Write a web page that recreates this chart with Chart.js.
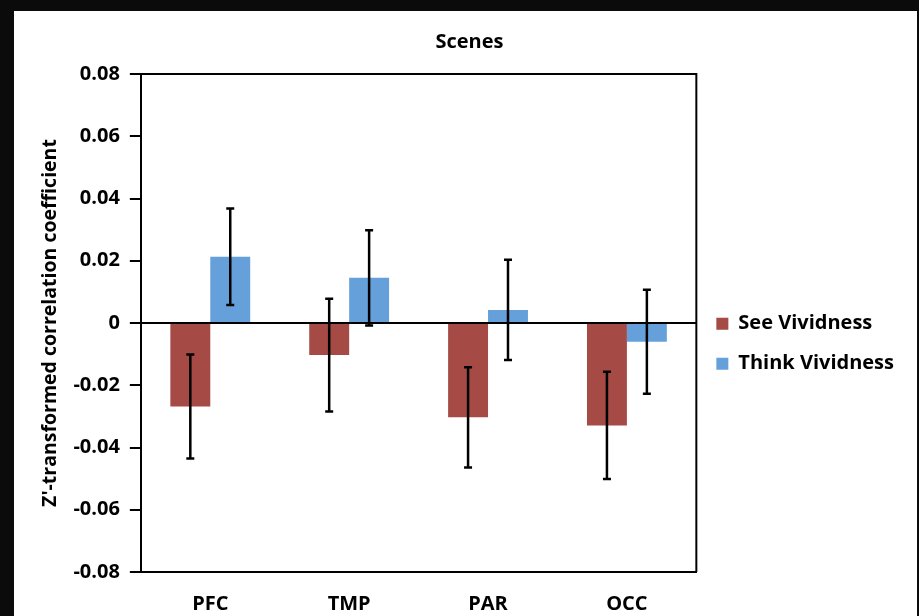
<!DOCTYPE html>
<html>
<head>
<meta charset="utf-8">
<script src="https://cdn.jsdelivr.net/npm/chart.js@4.4.1/dist/chart.umd.min.js"></script>
<style>
  html, body { margin: 0; padding: 0; background: #0b0b0b; width: 919px; height: 616px; overflow: hidden; }
  #panel { position: absolute; left: 14px; top: 11px; width: 903px; height: 605px; background: #fff; }
</style>
</head>
<body>
<div id="panel"><canvas id="chart" width="903" height="605"></canvas></div>
<script>
const regions = ["PFC", "TMP", "PAR", "OCC"];
const seeVividness = [-0.0268, -0.0103, -0.0303, -0.0329];
const seeError = [0.0167, 0.0181, 0.0161, 0.0172];
const thinkVividness = [0.0213, 0.0145, 0.0042, -0.006];
const thinkError = [0.0155, 0.0153, 0.0161, 0.0167];
const yTicks = [-0.08, -0.06, -0.04, -0.02, 0, 0.02, 0.04, 0.06, 0.08];

const fontFam = "'Open Sans', sans-serif";

// error bars drawn from the y scale
const errorBars = {
    id: "errorBars",
    afterDatasetsDraw(chart) {
        const ctx = chart.ctx;
        const y = chart.scales.y;
        ctx.save();
        ctx.strokeStyle = "#000";
        ctx.lineWidth = 2.5;
        chart.data.datasets.forEach(function (ds, i) {
            chart.getDatasetMeta(i).data.forEach(function (bar, j) {
                const v = ds.data[j], e = ds.errors[j];
                const top = y.getPixelForValue(v + e);
                const bot = y.getPixelForValue(v - e);
                ctx.beginPath();
                ctx.moveTo(bar.x, top); ctx.lineTo(bar.x, bot);
                ctx.moveTo(bar.x - 4, top); ctx.lineTo(bar.x + 4, top);
                ctx.moveTo(bar.x - 4, bot); ctx.lineTo(bar.x + 4, bot);
                ctx.stroke();
            });
        });
        ctx.restore();
    }
};

// top and right side of the plot box
const frame = {
    id: "frame",
    afterDraw(chart) {
        const a = chart.chartArea, ctx = chart.ctx;
        ctx.save();
        ctx.strokeStyle = "#000";
        ctx.lineWidth = 2;
        ctx.beginPath();
        ctx.moveTo(a.left, a.top); ctx.lineTo(a.right, a.top); ctx.lineTo(a.right, a.bottom);
        ctx.stroke();
        ctx.restore();
    }
};

const ctx = document.getElementById("chart").getContext("2d");
new Chart(ctx, {
    type: "bar",
    data: {
        labels: regions,
        datasets: [
            { label: "See Vividness", data: seeVividness, errors: seeError, backgroundColor: "#A54A45" },
            { label: "Think Vividness", data: thinkVividness, errors: thinkError, backgroundColor: "#65A0DB" }
        ]
    },
    plugins: [errorBars, frame],
    options: {
        responsive: false,
        animation: false,
        layout: { padding: { left: 21, right: 13, top: 0, bottom: -20 } },
        datasets: { bar: { barPercentage: 1.0, categoryPercentage: 0.575 } },
        plugins: {
            title: {
                display: true, text: "Scenes", color: "#000",
                font: { family: fontFam, size: 20, weight: "bold" },
                padding: { top: 19, bottom: 20 }
            },
            legend: {
                position: "right",
                title: { display: true, text: " ", font: { size: 2 }, padding: { top: 38, bottom: 0 } },
                labels: {
                    color: "#000", boxWidth: 12, boxHeight: 12, padding: 20,
                    font: { family: fontFam, size: 20, weight: "bold" }
                }
            },
            tooltip: { enabled: false }
        },
        scales: {
            x: {
                grid: { display: false, drawTicks: false },
                border: { color: "#000", width: 2 },
                ticks: { color: "#000", padding: 20, font: { family: fontFam, size: 20, weight: "bold" } }
            },
            y: {
                min: -0.08, max: 0.08,
                afterBuildTicks(axis) { axis.ticks = yTicks.map(v => ({ value: v })); },
                grid: {
                    color: c => (c.tick && c.tick.value === 0 ? "#000" : "rgba(0,0,0,0)"),
                    lineWidth: 2, tickColor: "#000", tickLength: 11, tickWidth: 2
                },
                border: { color: "#000", width: 2 },
                ticks: {
                    color: "#000", padding: 10,
                    font: { family: fontFam, size: 20, weight: "bold" },
                    callback: v => (v === 0 ? "0" : v.toFixed(2))
                },
                title: {
                    display: true, text: "Z'-transformed correlation coefficient", color: "#000",
                    font: { family: fontFam, size: 19.5, weight: "bold" }, padding: { bottom: 1 }
                }
            }
        }
    }
});
</script>
</body>
</html>
